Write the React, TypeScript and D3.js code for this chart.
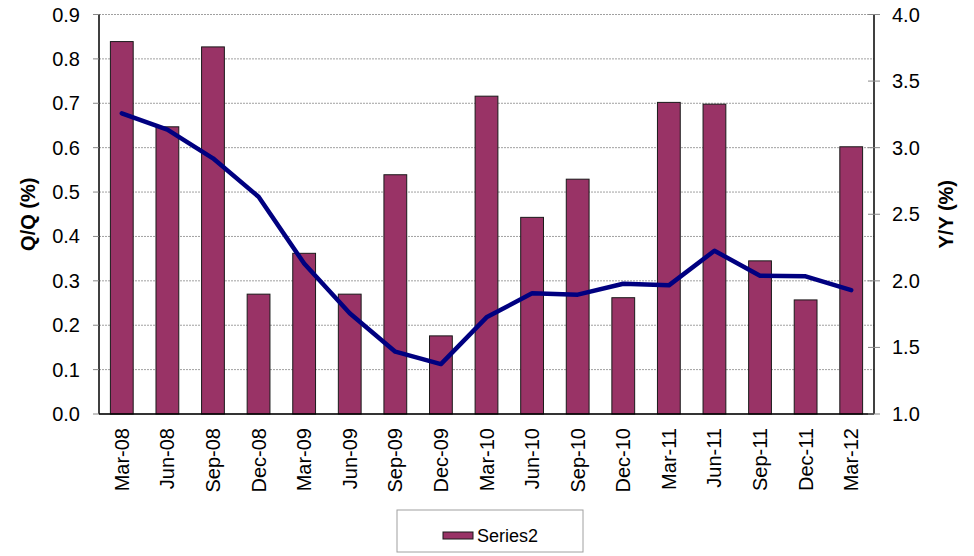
import React from "react";
import * as d3 from "d3";

const categories = ["Mar-08","Jun-08","Sep-08","Dec-08","Mar-09","Jun-09","Sep-09","Dec-09","Mar-10","Jun-10","Sep-10","Dec-10","Mar-11","Jun-11","Sep-11","Dec-11","Mar-12"];
const qqValues = [0.839,0.647,0.827,0.270,0.362,0.270,0.539,0.176,0.716,0.443,0.529,0.262,0.702,0.698,0.345,0.257,0.602];
const yyValues = [3.258,3.135,2.920,2.631,2.130,1.756,1.468,1.375,1.726,1.906,1.896,1.978,1.966,2.226,2.038,2.034,1.930];
const leftTicks = [0,0.1,0.2,0.3,0.4,0.5,0.6,0.7,0.8,0.9];
const rightTicks = [1.0,1.5,2.0,2.5,3.0,3.5,4.0];
const seriesName = "Series2";

const W = 974, H = 556;
const M = { left: 99, right: 874, top: 14.5, bottom: 414 };
const FONT = "Liberation Sans, Arial, sans-serif";

export default function App() {
  const x = d3.scaleBand<string>().domain(categories).range([M.left, M.right]).paddingInner(0.5).paddingOuter(0.25);
  const yL = d3.scaleLinear().domain([0, 0.9]).range([M.bottom, M.top]);
  const yR = d3.scaleLinear().domain([1, 4]).range([M.bottom, M.top]);
  const line = d3.line<number>()
    .x((_, i) => (x(categories[i]) as number) + x.bandwidth() / 2)
    .y((d) => yR(d));

  return (
    <svg width={W} height={H} style={{ position: "absolute", left: 0, top: 0, background: "#fff" }} fontFamily={FONT}>
      {leftTicks.map((t) => (
        <line key={"g" + t} x1={M.left} x2={M.right} y1={yL(t)} y2={yL(t)} stroke="#a0a0a0" strokeWidth={1} strokeDasharray={t === 0 ? undefined : "2,1"} />
      ))}
      {qqValues.map((v, i) => (
        <rect key={"b" + i} x={x(categories[i])} y={yL(v)} width={x.bandwidth()} height={yL(0) - yL(v)} fill="#993366" stroke="#1a1a1a" strokeWidth={1} />
      ))}
      <path d={line(yyValues) || ""} fill="none" stroke="#000080" strokeWidth={4.5} strokeLinejoin="round" strokeLinecap="round" />
      {/* axes */}
      <line x1={M.left} x2={M.left} y1={M.top} y2={M.bottom} stroke="#000" strokeWidth={1.5} />
      <line x1={M.right} x2={M.right} y1={M.top} y2={M.bottom} stroke="#000" strokeWidth={1.5} />
      <line x1={M.left} x2={M.right} y1={M.bottom} y2={M.bottom} stroke="#000" strokeWidth={1.5} />
      {leftTicks.map((t) => (
        <g key={"lt" + t}>
          <line x1={M.left - 6} x2={M.left} y1={yL(t)} y2={yL(t)} stroke="#888" />
          <text x={80} y={yL(t)} dy="0.35em" textAnchor="end" fontSize={20} fill="#000">{t.toFixed(1)}</text>
        </g>
      ))}
      {rightTicks.map((t) => (
        <g key={"rt" + t}>
          <line x1={M.right - 6} x2={M.right + 6} y1={yR(t)} y2={yR(t)} stroke="#888" />
          <text x={892} y={yR(t)} dy="0.35em" textAnchor="start" fontSize={20} fill="#000">{t.toFixed(1)}</text>
        </g>
      ))}
      {categories.map((c) => (
        <text key={"x" + c} transform={`translate(${(x(c) as number) + x.bandwidth() / 2},428) rotate(-90)`} dy="0.35em" textAnchor="end" fontSize={20} fill="#000">{c}</text>
      ))}
      <text transform={`translate(28,${(M.top + M.bottom) / 2}) rotate(-90)`} dy="0.35em" textAnchor="middle" fontSize={20} fontWeight="bold">Q/Q (%)</text>
      <text transform={`translate(946,${(M.top + M.bottom) / 2}) rotate(-90)`} dy="0.35em" textAnchor="middle" fontSize={20} fontWeight="bold">Y/Y (%)</text>
      {/* legend */}
      <rect x={397} y={510} width={186} height={42} fill="#fff" stroke="#a0a0a0" strokeWidth={1} />
      <rect x={443} y={532} width={30} height={7} fill="#993366" stroke="#1a1a1a" strokeWidth={1} />
      <text x={477} y={542} fontSize={18} fill="#000">{seriesName}</text>
    </svg>
  );
}
